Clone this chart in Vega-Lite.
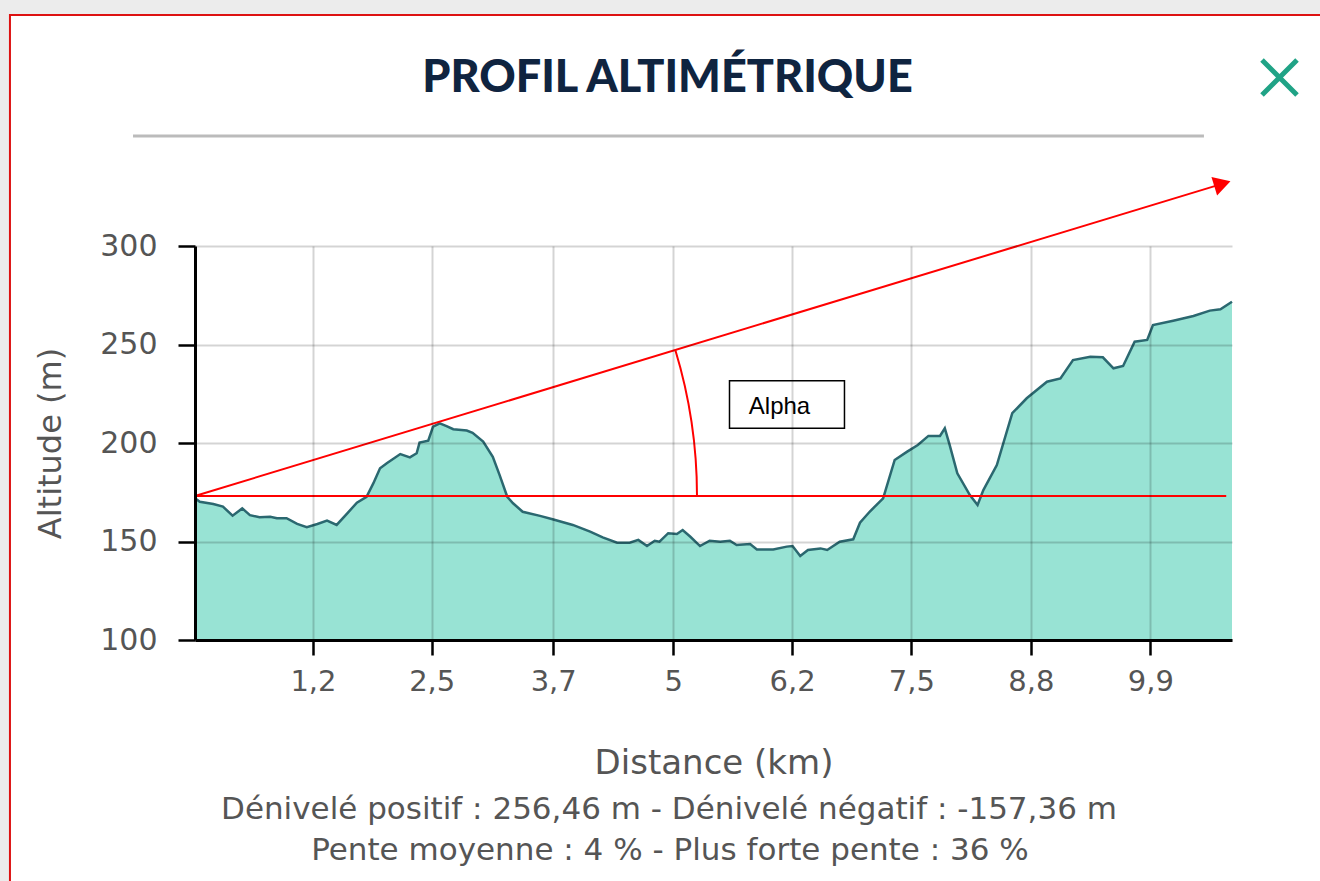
{
  "$schema": "https://vega.github.io/schema/vega-lite/v6.json",
  "width": 1037,
  "height": 394,
  "autosize": {"type": "none"},
  "padding": {"left": 195, "top": 246, "right": 88, "bottom": 241},
  "background": "white",
  "config": {"view": {"stroke": null}},
  "data": {"values": [{}]},
  "datasets": {
    "profile": [
      {"km": 0, "alt": 172}, {"km": 0.05, "alt": 170.2}, {"km": 0.19, "alt": 169}, {"km": 0.29, "alt": 167.7},
      {"km": 0.39, "alt": 163.1}, {"km": 0.49, "alt": 166.8}, {"km": 0.57, "alt": 163.4}, {"km": 0.67, "alt": 162.3},
      {"km": 0.78, "alt": 162.6}, {"km": 0.85, "alt": 161.8}, {"km": 0.95, "alt": 161.8}, {"km": 1.06, "alt": 158.9},
      {"km": 1.16, "alt": 157.3}, {"km": 1.27, "alt": 158.9}, {"km": 1.37, "alt": 160.6}, {"km": 1.47, "alt": 158.4},
      {"km": 1.58, "alt": 164.3}, {"km": 1.68, "alt": 169.7}, {"km": 1.78, "alt": 172.7}, {"km": 1.85, "alt": 179.5},
      {"km": 1.92, "alt": 187.2}, {"km": 1.99, "alt": 189.7}, {"km": 2.13, "alt": 194.4}, {"km": 2.23, "alt": 192.7},
      {"km": 2.30, "alt": 194.8}, {"km": 2.33, "alt": 200.2}, {"km": 2.42, "alt": 201.2}, {"km": 2.47, "alt": 208.3},
      {"km": 2.54, "alt": 210}, {"km": 2.61, "alt": 208.6}, {"km": 2.68, "alt": 207}, {"km": 2.82, "alt": 206.3},
      {"km": 2.88, "alt": 205.2}, {"km": 2.99, "alt": 200.7}, {"km": 3.09, "alt": 193}, {"km": 3.16, "alt": 183.8},
      {"km": 3.24, "alt": 172.7}, {"km": 3.30, "alt": 169.4}, {"km": 3.40, "alt": 165.1}, {"km": 3.58, "alt": 163},
      {"km": 3.71, "alt": 161.3}, {"km": 3.92, "alt": 158.4}, {"km": 4.10, "alt": 155}, {"km": 4.23, "alt": 152.1},
      {"km": 4.38, "alt": 149.4}, {"km": 4.51, "alt": 149.4}, {"km": 4.60, "alt": 150.8}, {"km": 4.69, "alt": 147.7},
      {"km": 4.77, "alt": 150.4}, {"km": 4.82, "alt": 149.9}, {"km": 4.91, "alt": 154.2}, {"km": 5.00, "alt": 153.8},
      {"km": 5.06, "alt": 155.8}, {"km": 5.14, "alt": 152.4}, {"km": 5.24, "alt": 147.7}, {"km": 5.34, "alt": 150.4},
      {"km": 5.45, "alt": 149.9}, {"km": 5.55, "alt": 150.4}, {"km": 5.62, "alt": 148.2}, {"km": 5.76, "alt": 148.7},
      {"km": 5.83, "alt": 146}, {"km": 6.00, "alt": 146}, {"km": 6.14, "alt": 147.4}, {"km": 6.20, "alt": 147.7},
      {"km": 6.28, "alt": 142.6}, {"km": 6.36, "alt": 145.7}, {"km": 6.49, "alt": 146.5}, {"km": 6.56, "alt": 145.7},
      {"km": 6.69, "alt": 149.9}, {"km": 6.83, "alt": 151.1}, {"km": 6.90, "alt": 159.5}, {"km": 7.00, "alt": 165.1},
      {"km": 7.14, "alt": 171.9}, {"km": 7.26, "alt": 191.4}, {"km": 7.39, "alt": 195.6}, {"km": 7.50, "alt": 199},
      {"km": 7.61, "alt": 203.6}, {"km": 7.73, "alt": 203.6}, {"km": 7.78, "alt": 207.5}, {"km": 7.83, "alt": 199},
      {"km": 7.91, "alt": 184.6}, {"km": 8.04, "alt": 173.6}, {"km": 8.12, "alt": 168.5}, {"km": 8.18, "alt": 176.1},
      {"km": 8.32, "alt": 188.8}, {"km": 8.48, "alt": 215.1}, {"km": 8.63, "alt": 222.7}, {"km": 8.84, "alt": 231.1},
      {"km": 8.98, "alt": 232.8}, {"km": 9.11, "alt": 242.1}, {"km": 9.29, "alt": 243.8}, {"km": 9.42, "alt": 243.5},
      {"km": 9.53, "alt": 237.9}, {"km": 9.63, "alt": 239.1}, {"km": 9.75, "alt": 251.4}, {"km": 9.88, "alt": 252.3},
      {"km": 9.94, "alt": 259.9}, {"km": 10.15, "alt": 262.1}, {"km": 10.36, "alt": 264.5}, {"km": 10.53, "alt": 267.2},
      {"km": 10.64, "alt": 267.9}, {"km": 10.76, "alt": 271.7}
    ]
  },
  "layer": [
    {
      "mark": {"type": "rect", "fill": "#ececec"},
      "encoding": {
        "x": {"datum": -3, "type": "quantitative"},
        "x2": {"datum": 13},
        "y": {"datum": 417.7, "type": "quantitative"},
        "y2": {"datum": 440}
      }
    },
    {
      "mark": {"type": "rect", "fill": "#ececec"},
      "encoding": {
        "x": {"datum": -3, "type": "quantitative"},
        "x2": {"datum": -1.93},
        "y": {"datum": 440, "type": "quantitative"},
        "y2": {"datum": -80}
      }
    },
    {
      "mark": {"type": "rect", "fillOpacity": 0, "stroke": "#dd1111", "strokeWidth": 2},
      "encoding": {
        "x": {"datum": -1.92, "type": "quantitative"},
        "x2": {"datum": 13},
        "y": {"datum": 417.25, "type": "quantitative"},
        "y2": {"datum": -80}
      }
    },
    {
      "data": {"name": "profile"},
      "mark": {"type": "area", "fill": "#98e3d4", "fillOpacity": 1},
      "encoding": {
        "x": {
          "field": "km", "type": "quantitative",
          "scale": {"domain": [0, 10.76], "nice": false, "zero": false},
          "axis": {
            "title": "Distance (km)",
            "zindex": 1,
            "grid": true,
            "values": [1.224, 2.456, 3.717, 4.963, 6.195, 7.433, 8.673, 9.912],
            "labelExpr": "datum.value < 1.5 ? '1,2' : datum.value < 3 ? '2,5' : datum.value < 4 ? '3,7' : datum.value < 5.5 ? '5' : datum.value < 6.5 ? '6,2' : datum.value < 8 ? '7,5' : datum.value < 9 ? '8,8' : '9,9'",
            "labelFont": "DejaVu Sans", "labelFontSize": 29, "labelColor": "#555555", "labelPadding": 12,
            "titleFont": "DejaVu Sans", "titleFontSize": 34, "titleColor": "#555555", "titleFontWeight": "normal", "titlePadding": 50,
            "tickSize": 15, "tickColor": "#000000", "tickWidth": 2.5,
            "domainColor": "#000000", "domainWidth": 3,
            "gridColor": "#000000", "gridOpacity": 0.17, "gridWidth": 2, "labelFlush": false
          }
        },
        "y": {
          "field": "alt", "type": "quantitative",
          "scale": {"domain": [100, 300], "nice": false, "zero": false},
          "axis": {
            "title": "Altitude (m)",
            "zindex": 1,
            "grid": true,
            "values": [100, 150, 200, 250, 300],
            "labelFont": "DejaVu Sans", "labelFontSize": 30, "labelColor": "#555555", "labelPadding": 21,
            "titleFont": "DejaVu Sans", "titleFontSize": 32, "titleColor": "#555555", "titleFontWeight": "normal", "titlePadding": 32,
            "tickSize": 17, "tickColor": "#000000", "tickWidth": 2.5,
            "domainColor": "#000000", "domainWidth": 3,
            "gridColor": "#000000", "gridOpacity": 0.17, "gridWidth": 2
          }
        },
        "y2": {"datum": 100}
      }
    },
    {
      "data": {"name": "profile"},
      "mark": {"type": "line", "color": "#2b6870", "strokeWidth": 2.5},
      "encoding": {
        "x": {"field": "km", "type": "quantitative"},
        "y": {"field": "alt", "type": "quantitative"}
      }
    },
    {
      "mark": {"type": "rule", "color": "#ff0000", "strokeWidth": 2},
      "encoding": {
        "x": {"datum": 0, "type": "quantitative"},
        "x2": {"datum": 10.70},
        "y": {"datum": 173.1, "type": "quantitative"}
      }
    },
    {
      "mark": {"type": "rule", "color": "#ff0000", "strokeWidth": 2},
      "encoding": {
        "x": {"datum": 0, "type": "quantitative"},
        "x2": {"datum": 10.64},
        "y": {"datum": 173.1, "type": "quantitative"},
        "y2": {"datum": 331.3}
      }
    },
    {
      "mark": {"type": "arc", "theta": 1.2758, "theta2": 1.5708, "radius": 502, "radius2": 502, "fillOpacity": 0, "stroke": "#ff0000", "strokeWidth": 2},
      "encoding": {
        "x": {"datum": 0, "type": "quantitative"},
        "y": {"datum": 173.1, "type": "quantitative"}
      }
    },
    {
      "mark": {"type": "point", "shape": "triangle-right", "filled": true, "color": "#ff0000", "size": 380, "angle": 343.1, "opacity": 1},
      "encoding": {
        "x": {"datum": 10.66, "type": "quantitative"},
        "y": {"datum": 331.6, "type": "quantitative"}
      }
    },
    {
      "mark": {"type": "rect", "fill": "white", "stroke": "#000000", "strokeWidth": 1.5},
      "encoding": {
        "x": {"datum": 5.546, "type": "quantitative"},
        "x2": {"datum": 6.739},
        "y": {"datum": 231.6, "type": "quantitative"},
        "y2": {"datum": 207.5}
      }
    },
    {
      "mark": {"type": "text", "text": "Alpha", "font": "Liberation Sans", "fontSize": 24, "color": "#000000", "align": "center", "baseline": "alphabetic"},
      "encoding": {
        "x": {"datum": 6.065, "type": "quantitative"},
        "y": {"datum": 214.7, "type": "quantitative"}
      }
    },
    {
      "mark": {"type": "text", "text": "PROFIL ALTIMÉTRIQUE", "font": "Lato", "fontWeight": 900, "fontSize": 45, "color": "#0f2440", "align": "center", "baseline": "alphabetic"},
      "encoding": {
        "x": {"datum": 4.903, "type": "quantitative"},
        "y": {"datum": 378.2, "type": "quantitative"}
      }
    },
    {
      "mark": {"type": "rule", "color": "#bbbbbb", "strokeWidth": 3},
      "encoding": {
        "x": {"datum": -0.643, "type": "quantitative"},
        "x2": {"datum": 10.469},
        "y": {"datum": 355.8, "type": "quantitative"}
      }
    },
    {
      "mark": {"type": "point", "shape": "M-1,-1L1,1M1,-1L-1,1", "filled": false, "stroke": "#20a386", "strokeWidth": 5, "size": 1225, "opacity": 1},
      "encoding": {
        "x": {"datum": 11.253, "type": "quantitative"},
        "y": {"datum": 385.5, "type": "quantitative"}
      }
    },
    {
      "mark": {"type": "text", "text": "Dénivelé positif : 256,46 m - Dénivelé négatif : -157,36 m", "font": "DejaVu Sans", "fontSize": 31, "color": "#555555", "align": "center", "baseline": "alphabetic"},
      "encoding": {
        "x": {"datum": 4.918, "type": "quantitative"},
        "y": {"datum": 9.2, "type": "quantitative"}
      }
    },
    {
      "mark": {"type": "text", "text": "Pente moyenne : 4 % - Plus forte pente : 36 %", "font": "DejaVu Sans", "fontSize": 31, "color": "#555555", "align": "center", "baseline": "alphabetic"},
      "encoding": {
        "x": {"datum": 4.928, "type": "quantitative"},
        "y": {"datum": -11.7, "type": "quantitative"}
      }
    }
  ]
}
